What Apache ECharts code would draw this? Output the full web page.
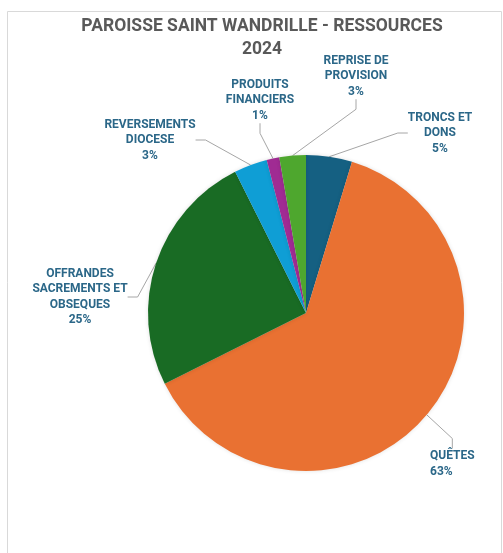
<!DOCTYPE html>
<html>
<head>
<meta charset="utf-8">
<script src="https://cdn.jsdelivr.net/npm/echarts@6/dist/echarts.min.js"></script>
<style>
html,body{margin:0;padding:0;background:#fff;}
#c{width:503px;height:553px;}
</style>
</head>
<body>
<div id="c"></div>
<script>
// Data
const categories = ['TRONCS ET\nDONS', 'QUÊTES', 'OFFRANDES\nSACREMENTS ET\nOBSEQUES', 'REVERSEMENTS\nDIOCESE', 'PRODUITS\nFINANCIERS', 'REPRISE DE\nPROVISION'];
const values = [4.7, 62.9, 25.0, 3.4, 1.3, 2.7];
const colors = ['#156082', '#E97132', '#196B24', '#0F9ED5', '#A02B93', '#4EA72E'];
const titleText = 'PAROISSE SAINT WANDRILLE - RESSOURCES\n2024';

// Label placement (layout only)
const labelPos = [
  {x: 440, y: 133, align: 'center'},
  {x: 430, y: 464, align: 'left'},
  {x: 80, y: 297, align: 'center'},
  {x: 150, y: 140, align: 'center'},
  {x: 260, y: 100, align: 'center'},
  {x: 356, y: 76, align: 'center'}
];

const chart = echarts.init(document.getElementById('c'));
chart.setOption({
  animation: false,
  backgroundColor: '#ffffff',
  graphic: [{
    type: 'rect', silent: true, z: -1,
    shape: {x: 7.5, y: 11.5, width: 494, height: 560},
    style: {fill: '#ffffff', stroke: '#d9d9d9', lineWidth: 1}
  }],
  title: {
    text: titleText,
    left: 257,
    top: 10,
    textAlign: 'center',
    textStyle: {
      fontFamily: 'Roboto', fontWeight: 'bold', fontSize: 17.5,
      color: '#595959', lineHeight: 23
    }
  },
  series: [{
    type: 'pie',
    center: [306, 313],
    radius: 158,
    startAngle: 90,
    clockwise: true,
    data: categories.map((n, i) => ({name: n, value: values[i], itemStyle: {color: colors[i]}})),
    itemStyle: {borderWidth: 0, shadowBlur: 4, shadowColor: 'rgba(0,0,0,0.12)'},
    label: {
      show: true,
      position: 'outside',
      overflow: 'none',
      formatter: p => p.name + '\n' + Math.round(p.percent) + '%',
      fontFamily: 'Roboto', fontWeight: 'bold', fontSize: 12,
      color: '#2b6788', lineHeight: 15.5
    },
    labelLine: {show: true, length: 15, length2: 10, lineStyle: {color: '#a6a6a6', width: 1}},
    labelLayout: function (params) {
      const p = labelPos[params.dataIndex];
      return {x: p.x, y: p.y, align: p.align, verticalAlign: 'middle'};
    },
    emphasis: {disabled: true}
  }]
});
</script>
</body>
</html>
